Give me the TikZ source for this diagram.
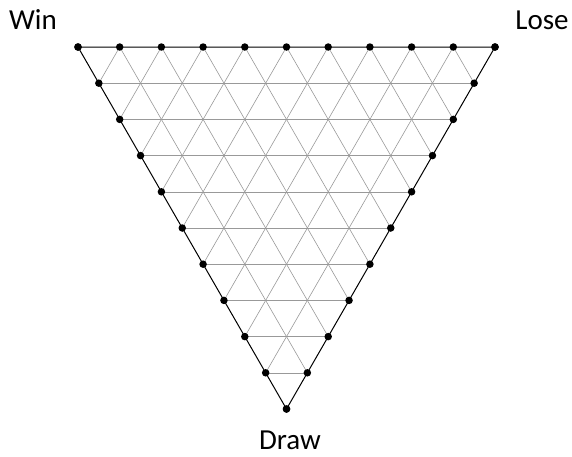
\documentclass[tikz,border=0pt]{standalone}
\usepackage{fontspec}
\setmainfont{Carlito}
\usetikzlibrary{calc}
\begin{document}
\begin{tikzpicture}[x=1pt,y=-1pt,
  gridline/.style={draw=black!40,line width=0.6pt},
  edge/.style={draw=black,line width=1pt},
  dot/.style={circle,fill=black,inner sep=0pt,minimum size=7.5pt},
  lbl/.style={font=\fontsize{29}{32}\selectfont,anchor=base,inner sep=0pt}]
\useasboundingbox (0,0) rectangle (572,456);
\coordinate (W) at (78,47);
\coordinate (Lo) at (495,47);
\coordinate (D) at (286.5,409);
\foreach \i in {0,...,10}{
  \coordinate (T\i) at ($(W)!\i/10!(Lo)$);
  \coordinate (L\i) at ($(W)!\i/10!(D)$);
  \coordinate (R\i) at ($(Lo)!\i/10!(D)$);
}
\foreach \i in {1,...,9}{
  \pgfmathtruncatemacro{\j}{10-\i}
  \draw[gridline] (L\i) -- (R\i);
  \draw[gridline] (T\i) -- (L\i);
  \draw[gridline] (T\i) -- (R\j);
}
\draw[edge] (W) -- (Lo) -- (D) -- cycle;
\foreach \i in {0,...,10}{
  \node[dot] at (T\i) {};
  \node[dot] at (L\i) {};
  \node[dot] at (R\i) {};
}
\node[lbl] (win) at (33,29) {Win};
\node[lbl] (lose) at (542,29) {Lose};
\node[lbl] (draw) at (290,449) {Draw};
\end{tikzpicture}
\end{document}
